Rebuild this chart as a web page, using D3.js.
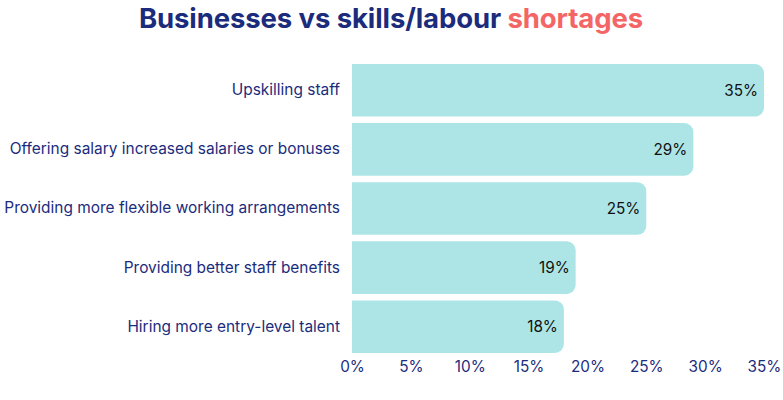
<!DOCTYPE html>
<html>
<head>
<meta charset="utf-8">
<title>Businesses vs skills/labour shortages</title>
<script src="https://cdn.jsdelivr.net/npm/d3@7"></script>
<style>
  body { margin: 0; background: #fff; }
  text { font-family: Inter, "Noto Sans", sans-serif; }
</style>
</head>
<body>
<div id="chart"></div>
<script>
  var width = 783;
  var height = 400;

  // data
  var categories = [
    "Upskilling staff",
    "Offering salary increased salaries or bonuses",
    "Providing more flexible working arrangements",
    "Providing better staff benefits",
    "Hiring more entry-level talent"
  ];
  var values = [35, 29, 25, 19, 18];
  var ticks = [0, 5, 10, 15, 20, 25, 30, 35];

  var navy = "#1b2c7c";
  var coral = "#f46566";
  var barColor = "#ade5e6";

  var svg = d3.select("#chart").append("svg")
    .attr("width", width)
    .attr("height", height);

  // title, two colours
  var title = svg.append("text")
    .attr("x", 391)
    .attr("y", 28)
    .attr("text-anchor", "middle")
    .style("font-size", "27.5px")
    .style("font-weight", 700)
    .style("letter-spacing", "-0.1px");
  title.append("tspan").attr("fill", navy).text("Businesses vs skills/labour ");
  title.append("tspan").attr("fill", coral).text("shortages");

  var x = d3.scaleLinear().domain([0, 35]).range([352, 764]);
  var y = d3.scaleBand().domain(categories).range([64, 353]).paddingInner(0.11);

  var r = 9;
  // bar with flat left side and rounded right corners
  function barPath(d, i) {
    var x0 = x(0), x1 = x(d), y0 = y(categories[i]), h = y.bandwidth();
    return "M" + x0 + "," + y0 +
      "H" + (x1 - r) +
      "A" + r + "," + r + " 0 0 1 " + x1 + "," + (y0 + r) +
      "V" + (y0 + h - r) +
      "A" + r + "," + r + " 0 0 1 " + (x1 - r) + "," + (y0 + h) +
      "H" + x0 + "Z";
  }

  svg.append("g").selectAll("path")
    .data(values)
    .enter().append("path")
    .attr("d", barPath)
    .attr("fill", barColor);

  // value labels inside bar end
  svg.append("g").selectAll("text")
    .data(values)
    .enter().append("text")
    .attr("x", function(d) { return x(d) - 6; })
    .attr("y", function(d, i) { return y(categories[i]) + y.bandwidth() / 2; })
    .attr("dy", "0.35em")
    .attr("text-anchor", "end")
    .attr("fill", "#111")
    .style("font-size", "15.3px")
    .text(function(d) { return d + "%"; });

  // category labels
  var yAxis = d3.axisLeft(y).tickSize(0).tickPadding(12);
  var gy = svg.append("g")
    .attr("transform", "translate(352,0)")
    .call(yAxis);
  gy.select(".domain").remove();
  gy.selectAll("text")
    .attr("fill", navy)
    .style("font-size", "15.45px")
    .style("font-family", "Inter, 'Noto Sans', sans-serif");

  // x axis
  var xAxis = d3.axisBottom(x).tickValues(ticks).tickSize(0).tickPadding(8)
    .tickFormat(function(d) { return d + "%"; });
  var gx = svg.append("g")
    .attr("transform", "translate(0,353)")
    .call(xAxis);
  gx.select(".domain").remove();
  gx.selectAll("text")
    .attr("fill", navy)
    .style("font-size", "15.3px")
    .style("font-family", "Inter, 'Noto Sans', sans-serif");
</script>
</body>
</html>
